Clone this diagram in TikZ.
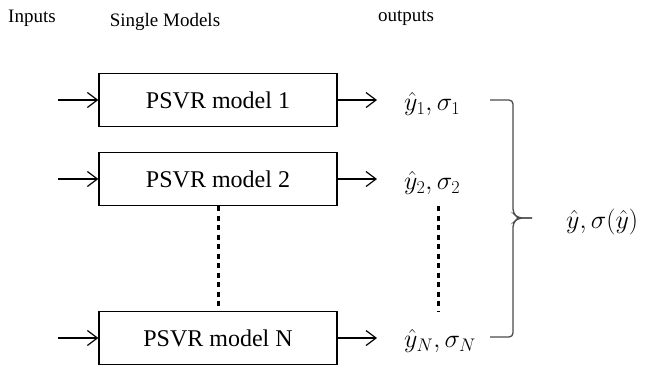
\documentclass[tikz,border=0pt]{standalone}
\usepackage{fix-cm}
\usepackage{fontspec}
\setmainfont{Liberation Serif}
\usetikzlibrary{arrows.meta}
\begin{document}
\begin{tikzpicture}[x=1pt,y=-1pt,
  box/.style={draw,line width=1.2pt,minimum width=238pt,minimum height=53pt,inner sep=0pt,font=\fontsize{24}{27}\selectfont},
  head/.style={font=\fontsize{19}{22}\selectfont,inner sep=0pt},
  lab/.style={font=\fontsize{26}{29}\selectfont,inner sep=0pt,anchor=west},
  arr/.style={line width=1.2pt,-{Straight Barb[length=10pt,width=15pt,line width=1.2pt]}},
  dots/.style={line width=3pt,dash pattern=on 5pt off 4.5pt}]
\useasboundingbox (0,0) rectangle (650,365);
\node[head] (hin) at (32,18) {Inputs};
\node[head] (hsm) at (165,22) {Single Models};
\node[head] (hout) at (406,18) {outputs};

\node[box] (b1) at (218,100) {PSVR model 1};
\node[box] (b2) at (218,179) {PSVR model 2};
\node[box] (bN) at (218,338) {PSVR model N};

\coordinate (i1) at (58,100);
\coordinate (i2) at (58,179);
\coordinate (iN) at (58,338);
\draw[arr] (i1) -- (b1.west);
\draw[arr] (i2) -- (b2.west);
\draw[arr] (iN) -- (bN.west);

\coordinate (e1) at (377,100);
\coordinate (e2) at (377,179);
\coordinate (eN) at (377,338);
\draw[arr] (b1.east) -- (e1);
\draw[arr] (b2.east) -- (e2);
\draw[arr] (bN.east) -- (eN);

\node[lab] (o1) at (404,104) {$\hat{y}_1,\sigma_1$};
\node[lab] (o2) at (404,183) {$\hat{y}_2,\sigma_2$};
\node[lab] (oN) at (404,341) {$\hat{y}_N,\sigma_N$};

\draw[dots] (b2.south) -- (bN.north);
\coordinate (d1) at (438,206);
\coordinate (d2) at (438,312);
\draw[dots] (d1) -- (d2);

\coordinate (bt) at (490,100);
\coordinate (bb) at (490,337);
\coordinate (btip) at (532,218);
\draw[line width=1.3pt,rounded corners=4pt,color=black!70]
  (bt) -- (513,100) -- (513,213) -- (518,218) -- (btip);
\draw[line width=1.3pt,rounded corners=4pt,color=black!70]
  (bb) -- (513,337) -- (513,223) -- (518,218) -- (btip);

\node[lab] (res) at (566,222) {$\hat{y},\sigma(\hat{y})$};
\end{tikzpicture}
\end{document}
